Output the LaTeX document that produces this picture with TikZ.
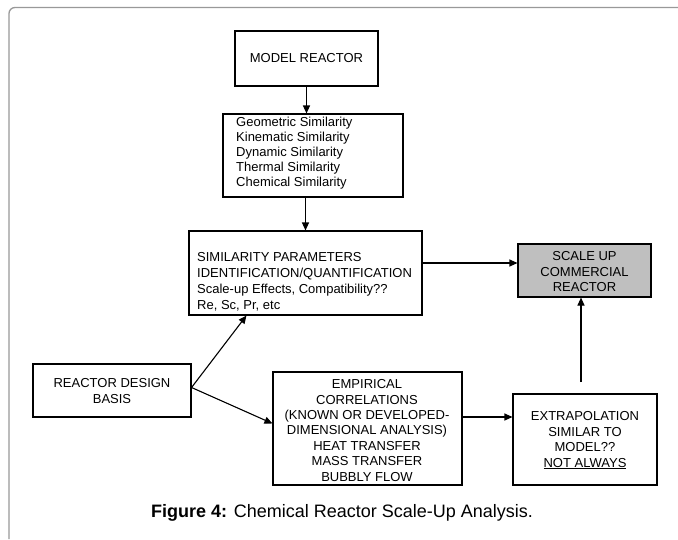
\documentclass[tikz,border=0pt]{standalone}
\usepackage{fontspec}
\setmainfont{Liberation Sans}
\usetikzlibrary{arrows.meta,positioning,calc}
\begin{document}
\begin{tikzpicture}[x=1pt,y=-1pt,
  boxst/.style={draw=black,line width=1.1pt,inner sep=0pt},
  txt/.style={inner sep=0pt,font=\fontsize{13}{15.4}\selectfont},
  arr/.style={line width=1.1pt,-{Triangle[length=8pt,width=7pt]}},
  ln/.style={line width=1.1pt}]
\useasboundingbox (0,0) rectangle (678,539);
\fill[white] (0,0) rectangle (678,539);
% frame
\draw[line width=1.3pt,color=black!40,rounded corners=6pt] (9,539) -- (9,7.5) -- (678,7.5);
% boxes
\node[boxst,minimum width=143pt,minimum height=55pt] (model) at (306.5,58.5) {};
\node[txt] (model-t) at (306.5,58.5) {MODEL REACTOR};
\node[boxst,minimum width=180pt,minimum height=83pt] (simil) at (313,155.5) {};
\node[txt,align=left,anchor=west,font=\fontsize{13}{15}\selectfont] (simil-t) at (236,153.5) {Geometric Similarity\\Kinematic Similarity\\Dynamic Similarity\\Thermal Similarity\\Chemical Similarity};
\node[boxst,minimum width=233pt,minimum height=84pt] (params) at (305.5,273) {};
\node[txt,align=left,anchor=west,font=\fontsize{13}{16}\selectfont] (params-t) at (197,281.5) {SIMILARITY PARAMETERS\\IDENTIFICATION/QUANTIFICATION\\Scale-up Effects, Compatibility??\\Re, Sc, Pr, etc};
\node[boxst,fill=black!25,minimum width=133pt,minimum height=53pt] (scale) at (584.5,270.5) {};
\node[txt,align=center,font=\fontsize{13}{15.5}\selectfont] (scale-t) at (584.5,272) {SCALE UP\\COMMERCIAL\\REACTOR};
\node[boxst,minimum width=158pt,minimum height=53pt] (design) at (112,390.5) {};
\node[txt,align=center,font=\fontsize{13}{16}\selectfont] (design-t) at (112,391.5) {REACTOR DESIGN\\BASIS};
\node[boxst,minimum width=189pt,minimum height=113pt] (emp) at (367.5,428.5) {};
\node[txt,align=center] (emp-t) at (367,430.5) {EMPIRICAL\\CORRELATIONS\\(KNOWN OR DEVELOPED-\\DIMENSIONAL ANALYSIS)\\HEAT TRANSFER\\MASS TRANSFER\\BUBBLY FLOW};
\node[boxst,minimum width=144pt,minimum height=91pt] (extrap) at (585,439.5) {};
\node[txt,align=center] (extrap-t) at (585,440.5) {EXTRAPOLATION\\SIMILAR TO\\MODEL??\\\underline{NOT ALWAYS}};
% caption
\node[inner sep=0pt,font=\fontsize{18}{20}\selectfont] (cap) at (342,513) {\textbf{Figure 4:} Chemical Reactor Scale-Up Analysis.};
% connectors
\coordinate (split) at ([yshift=3pt]design.east);
\coordinate (pin) at ([xshift=58pt]params.south west);
\coordinate (ein) at ([yshift=5pt]emp.west);
\coordinate (sin) at ([yshift=7.5pt]scale.west);
\coordinate (eout) at ([yshift=11.5pt]emp.east);
\coordinate (vstart) at (581,382);
\draw[arr] (model.south) -- (model.south |- simil.north);
\draw[arr] (simil.south -| params.north) -- (params.north);
\draw[arr] (params.east |- sin) -- (sin);
\draw[arr] (split) -- (pin);
\draw[arr] (split) -- (ein);
\draw[arr] (eout) -- (extrap.west |- eout);
\draw[arr] (vstart) -- (vstart |- scale.south);
\end{tikzpicture}
\end{document}
